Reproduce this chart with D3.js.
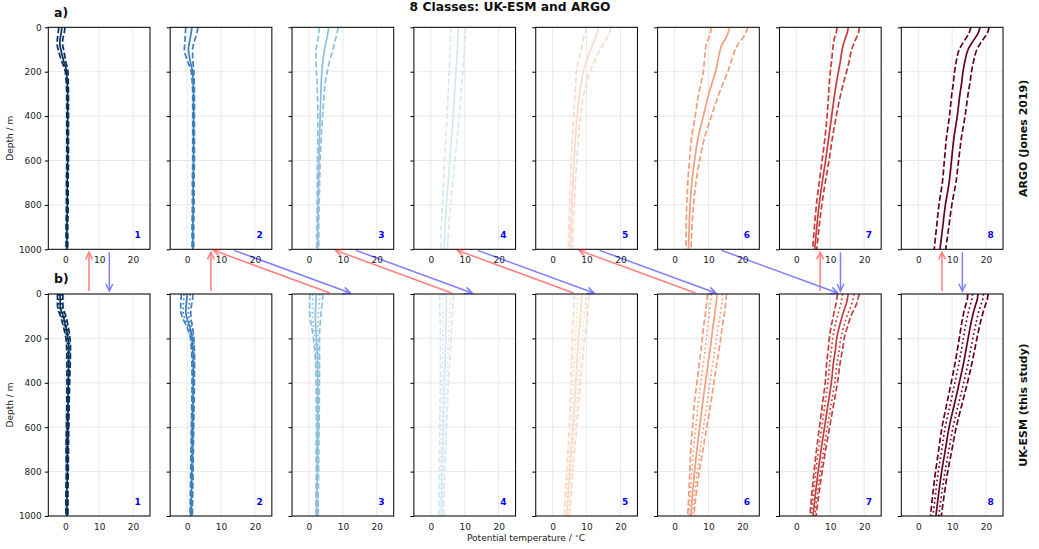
<!DOCTYPE html>
<html><head><meta charset="utf-8">
<script src="https://cdn.jsdelivr.net/npm/d3@7"></script>
<style>body{margin:0;background:#fff;} svg{display:block;font-family:"DejaVu Sans",sans-serif;}</style>
</head><body><svg id="chart" width="1039" height="549"></svg>
<script>
// ---------------- data ----------------
const depths = [0,25,50,75,100,150,200,250,300,400,500,600,700,800,900,1000];
const classLabels = ["1","2","3","4","5","6","7","8"];
const classColors = ["#053061","#3b7fbb","#8cc0de","#d8e8f2","#fbdac8","#f09e7c","#c53e3d","#67001f"];
const xTicks = [0,10,20];
const yTicks = [0,200,400,600,800,1000];

// ARGO (top row): mean and dashed half-width
const argoMean = [
  [-1.0,-1.2,-1.5,-1.6,-1.3,-0.5,0.4,0.6,0.7,0.7,0.7,0.7,0.6,0.6,0.5,0.5],
  [1.4,1.2,0.9,0.6,0.4,0.9,1.6,1.8,1.9,1.9,1.9,1.9,1.8,1.8,1.7,1.7],
  [5.8,5.6,5.3,4.9,4.6,4.1,3.8,3.6,3.5,3.3,3.1,2.9,2.8,2.7,2.6,2.6],
  [8.0,8.0,7.95,7.9,7.8,7.6,7.4,7.2,7.0,6.6,6.1,5.6,5.1,4.6,4.2,3.9],
  [13.6,13.1,12.5,11.9,11.2,10.0,9.0,8.4,7.9,7.2,6.7,6.3,6.0,5.7,5.4,5.2],
  [16.2,15.8,15.1,14.1,13.5,12.8,12.1,11.1,10.1,8.5,6.9,5.9,5.1,4.6,4.3,4.1],
  [15.3,15.0,14.4,13.9,13.5,13.0,12.4,11.8,11.3,10.4,9.5,8.6,7.6,6.7,6.0,5.4],
  [18.2,17.7,16.7,15.6,14.7,13.8,13.2,12.8,12.3,11.5,10.5,9.8,9.1,8.0,7.2,6.4]
];
const argoStd = [
  [0.9,0.9,0.8,0.8,0.8,0.6,0.4,0.3,0.25,0.25,0.25,0.25,0.25,0.25,0.25,0.25],
  [1.8,1.7,1.5,1.3,1.2,0.8,0.4,0.3,0.25,0.25,0.25,0.25,0.25,0.25,0.25,0.25],
  [2.8,2.7,2.6,2.5,2.5,2.0,1.6,1.2,1.0,0.7,0.5,0.4,0.35,0.3,0.3,0.3],
  [2.2,2.2,2.2,2.1,2.1,2.05,2.0,1.95,1.9,1.8,1.65,1.5,1.35,1.2,1.1,1.0],
  [3.7,3.6,3.4,3.1,2.8,2.4,2.0,1.6,1.3,1.0,0.9,0.8,0.7,0.7,0.6,0.6],
  [5.4,5.2,5.0,4.7,4.4,4.0,3.6,3.3,3.0,2.4,1.9,1.5,1.2,1.0,0.85,0.75],
  [3.3,3.3,3.2,3.0,2.8,2.6,2.4,2.1,1.8,1.35,1.1,1.0,0.9,0.8,0.7,0.6],
  [2.7,2.7,2.65,2.6,2.6,2.55,2.5,2.45,2.4,2.3,2.2,2.1,2.0,1.9,1.8,1.7]
];
// UK-ESM (bottom row): mean, dashed half-width, dotted half-width
const esmMean = [
  [-1.5,-1.5,-1.5,-1.2,-0.6,0.2,0.8,1.0,1.0,0.9,0.8,0.7,0.6,0.6,0.5,0.5],
  [0.0,-0.1,-0.3,-0.4,-0.2,0.8,1.5,1.7,1.8,1.8,1.7,1.6,1.5,1.4,1.3,1.2],
  [2.2,2.1,2.0,1.9,1.9,2.0,2.2,2.4,2.5,2.6,2.6,2.6,2.5,2.5,2.4,2.4],
  [4.6,4.6,4.6,4.55,4.5,4.45,4.4,4.3,4.2,4.0,3.8,3.6,3.5,3.3,3.2,3.1],
  [8.6,8.5,8.4,8.3,8.2,7.9,7.6,7.4,7.2,6.8,6.4,6.0,5.5,5.0,4.6,4.2],
  [12.5,12.4,12.2,12.0,11.8,11.3,10.9,10.5,10.0,9.1,8.2,7.4,6.6,5.9,5.3,4.8],
  [15.3,15.0,14.6,14.0,13.5,12.6,11.9,11.5,11.0,10.3,9.3,8.3,7.3,6.4,5.6,4.9],
  [17.6,17.4,16.9,16.4,16.0,15.3,14.7,14.1,13.5,12.1,10.6,9.1,8.0,6.9,6.0,5.2]
];
const esmStd = [
  [0.8,0.8,0.8,0.8,0.8,0.7,0.6,0.55,0.5,0.4,0.35,0.35,0.35,0.3,0.3,0.3],
  [1.7,1.7,1.6,1.5,1.3,0.8,0.5,0.45,0.4,0.35,0.35,0.35,0.35,0.35,0.35,0.35],
  [1.9,1.9,1.8,1.7,1.6,1.2,0.9,0.7,0.6,0.5,0.45,0.4,0.4,0.35,0.35,0.35],
  [2.0,2.0,1.95,1.9,1.8,1.7,1.6,1.5,1.4,1.2,1.1,1.0,0.9,0.8,0.75,0.7],
  [2.2,2.2,2.15,2.1,2.1,2.0,1.8,1.7,1.6,1.4,1.25,1.1,1.0,0.9,0.85,0.8],
  [2.8,2.8,2.8,2.8,2.8,2.75,2.7,2.65,2.6,2.5,2.4,2.1,1.8,1.4,1.1,0.9],
  [3.2,3.1,3.0,2.8,2.6,2.4,2.2,2.1,2.0,1.8,1.65,1.5,1.35,1.2,1.05,0.9],
  [3.0,2.95,2.9,2.85,2.8,2.7,2.6,2.55,2.5,2.4,2.25,2.1,1.95,1.8,1.7,1.6]
];
const esmDot = [
  [0.4,0.4,0.4,0.4,0.4,0.35,0.3,0.3,0.25,0.2,0.2,0.2,0.2,0.15,0.15,0.15],
  [0.9,0.9,0.85,0.8,0.7,0.45,0.3,0.25,0.2,0.2,0.2,0.2,0.2,0.2,0.2,0.2],
  [1.0,1.0,0.95,0.9,0.85,0.65,0.5,0.4,0.35,0.3,0.25,0.25,0.2,0.2,0.2,0.2],
  [1.1,1.1,1.05,1.0,1.0,0.9,0.85,0.8,0.75,0.65,0.6,0.55,0.5,0.45,0.4,0.4],
  [1.2,1.2,1.15,1.15,1.1,1.05,1.0,0.9,0.85,0.75,0.7,0.6,0.55,0.5,0.45,0.45],
  [1.7,1.7,1.7,1.65,1.6,1.55,1.5,1.45,1.4,1.35,1.3,1.15,1.0,0.8,0.6,0.5],
  [1.7,1.65,1.6,1.5,1.4,1.3,1.2,1.15,1.1,1.0,0.9,0.8,0.75,0.65,0.6,0.5],
  [1.6,1.6,1.55,1.5,1.5,1.45,1.4,1.35,1.35,1.3,1.2,1.15,1.05,1.0,0.9,0.85]
];
// arrows: [top class, bottom class]
const blueArrows = [[1,1],[2,3],[3,4],[4,5],[5,6],[6,7],[7,7],[8,8]];
const redArrows  = [[1,1],[2,2],[2,3],[3,4],[4,5],[5,6],[7,7],[8,8]];
const redArrowTemp = 7, blueArrowTemp = 13;
const rowTitles = ["ARGO (Jones 2019)", "UK-ESM (this study)"];
const panelLetters = ["a)", "b)"];
const mainTitle = "8 Classes: UK-ESM and ARGO";

// ---------------- layout ----------------
const svg = d3.select("#chart");
const panelLeft0 = 48.3, panelStep = 121.86, panelW = 101.7;
const rows = [{top:27.3, bottom:249.3}, {top:294, bottom:516}];
const xDomain = [-5, 25];
const lw = 1.7;
const xScale = i => { const L = panelLeft0 + i*panelStep; return d3.scaleLinear().domain(xDomain).range([L, L+panelW]); };
const yScale = r => d3.scaleLinear().domain([0,1000]).range([rows[r].top, rows[r].bottom]);

const defs = svg.append("defs");

function drawProfile(g, x, y, temps, color, width, dash) {
  const line = d3.line().x(d => x(d[0])).y(d => y(d[1])).curve(d3.curveMonotoneY);
  g.append("path").attr("d", line(depths.map((dp,k)=>[temps[k], dp])))
    .attr("fill","none").attr("stroke",color).attr("stroke-width",width)
    .attr("stroke-dasharray", dash || null);
}

for (let r = 0; r < 2; r++) {
  const y = yScale(r);
  for (let i = 0; i < 8; i++) {
    const x = xScale(i);
    const g = svg.append("g");
    const cid = `clip${r}_${i}`;
    defs.append("clipPath").attr("id", cid).append("rect")
      .attr("x", x.range()[0]).attr("y", rows[r].top).attr("width", panelW).attr("height", rows[r].bottom-rows[r].top);
    // grid
    g.selectAll(null).data(xTicks).join("line")
      .attr("x1", d=>x(d)).attr("x2", d=>x(d)).attr("y1", rows[r].top).attr("y2", rows[r].bottom)
      .attr("stroke","#e8e8e8").attr("stroke-width",1);
    g.selectAll(null).data(yTicks).join("line")
      .attr("x1", x.range()[0]).attr("x2", x.range()[1]).attr("y1", d=>y(d)).attr("y2", d=>y(d))
      .attr("stroke","#e8e8e8").attr("stroke-width",1);
    const pg = g.append("g").attr("clip-path", `url(#${cid})`);
    const col = classColors[i];
    if (r === 0) {
      const m = argoMean[i], s = argoStd[i];
      drawProfile(pg, x, y, m, col, lw);
      drawProfile(pg, x, y, m.map((v,k)=>v - s[k]), col, lw, "6,2.6");
      drawProfile(pg, x, y, m.map((v,k)=>v + s[k]), col, lw, "6,2.6");
    } else {
      const m = esmMean[i], s = esmStd[i], q = esmDot[i];
      drawProfile(pg, x, y, m, col, lw);
      drawProfile(pg, x, y, m.map((v,k)=>v - q[k]), col, lw, "1.7,2.8");
      drawProfile(pg, x, y, m.map((v,k)=>v + q[k]), col, lw, "1.7,2.8");
      drawProfile(pg, x, y, m.map((v,k)=>v - s[k]), col, lw, "6,2.6");
      drawProfile(pg, x, y, m.map((v,k)=>v + s[k]), col, lw, "6,2.6");
    }
    // spines
    g.append("rect").attr("x", x.range()[0]).attr("y", rows[r].top)
      .attr("width", panelW).attr("height", rows[r].bottom-rows[r].top)
      .attr("fill","none").attr("stroke","#000").attr("stroke-width",1);
    // y axis
    const ya = d3.axisLeft(y).tickValues(yTicks).tickSizeInner(3.5).tickSizeOuter(0).tickPadding(3)
      .tickFormat(i === 0 ? d3.format("d") : () => "");
    const yg = g.append("g").attr("transform", `translate(${x.range()[0]},0)`).call(ya);
    yg.select(".domain").remove();
    yg.selectAll("text").attr("font-size", 9).attr("font-family","DejaVu Sans").attr("fill","#222");
    yg.selectAll("line").attr("stroke","#000");
    // x axis
    const xa = d3.axisBottom(x).tickValues(xTicks).tickSizeInner(0).tickSizeOuter(0).tickPadding(7.5);
    const xg = g.append("g").attr("transform", `translate(0,${rows[r].bottom})`).call(xa);
    xg.select(".domain").remove();
    xg.selectAll("line").remove();
    xg.selectAll("text").attr("font-size", 9).attr("font-family","DejaVu Sans").attr("fill","#222");
    // class number
    g.append("text").attr("x", x.range()[0] + 89.4).attr("y", rows[r].bottom - 11)
      .attr("text-anchor","middle").attr("font-size", 9).attr("font-weight","bold")
      .attr("fill","#0000ff").text(classLabels[i]);
  }
  // depth label
  const cy = (rows[r].top + rows[r].bottom)/2;
  svg.append("text").attr("transform", `translate(13,${cy}) rotate(-90)`)
    .attr("text-anchor","middle").attr("font-size", 9).attr("fill","#222").text("Depth / m");
  // row title right
  svg.append("text").attr("transform", `translate(1027,${cy}) rotate(-90)`)
    .attr("text-anchor","middle").attr("font-size", 11).attr("font-weight","bold").attr("fill","#111").text(rowTitles[r]);
  // panel letter
  svg.append("text").attr("x", 54).attr("y", rows[r].top - 10.6)
    .attr("font-size", 12.5).attr("font-weight","bold").attr("fill","#111").text(panelLetters[r]);
}

// main title
svg.append("text").attr("x", 510).attr("y", 11).attr("text-anchor","middle")
  .attr("font-size", 12.3).attr("font-weight","bold").attr("fill","#111").text(mainTitle);

// x label
const xl = svg.append("text").attr("x", 526).attr("y", 541).attr("text-anchor","middle")
  .attr("font-size", 9).attr("fill","#222");
xl.append("tspan").text("Potential temperature / ");
xl.append("tspan").attr("font-size", 6.5).attr("dy", -3.5).text("\u2218");
xl.append("tspan").attr("dy", 3.5).text("C");

// arrows
const arrowG = svg.append("g").attr("opacity", 0.5);
function arrow(x1, y1, x2, y2, color) {
  const dx = x2-x1, dy = y2-y1, len = Math.hypot(dx, dy), ux = dx/len, uy = dy/len;
  const shrink = 3;
  const sx = x1 + ux*shrink, sy = y1 + uy*shrink, ex = x2 - ux*shrink, ey = y2 - uy*shrink;
  const hl = 7, hw = 3.4;
  const bx = ex - ux*hl, by = ey - uy*hl, px = -uy, py = ux;
  const g = arrowG.append("g").attr("stroke", color).attr("stroke-width", 1.5).attr("fill","none");
  g.append("path").attr("d", `M${sx},${sy}L${ex},${ey}`);
  g.append("path").attr("d", `M${bx+px*hw},${by+py*hw}L${ex},${ey}L${bx-px*hw},${by-py*hw}`);
}
redArrows.forEach(([t,b]) => {
  arrow(xScale(b-1)(redArrowTemp), rows[1].top, xScale(t-1)(redArrowTemp), rows[0].bottom, "#ff0000");
});
blueArrows.forEach(([t,b]) => {
  arrow(xScale(t-1)(blueArrowTemp), rows[0].bottom, xScale(b-1)(blueArrowTemp), rows[1].top, "#0000ff");
});
</script></body></html>
